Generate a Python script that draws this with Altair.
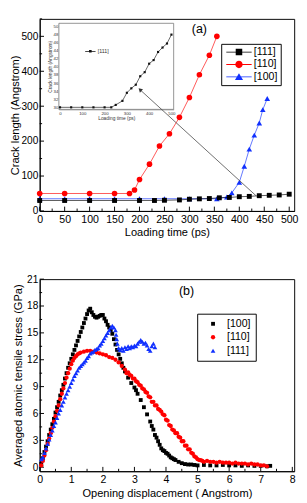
import altair as alt
import pandas as pd

FONT = "Liberation Sans"

# ---------------- panel (a): crack length vs loading time ----------------
t_111 = [0, 50, 100, 150, 200, 230, 250, 280, 300, 320, 340, 360, 380, 400, 420, 440, 460, 480, 500]
c_111 = [30, 30, 30, 30, 30, 30, 30.6, 31.6, 33.6, 34.7, 35.6, 37.7, 38.7, 40.8, 41.7, 43.7, 44.8, 45.8, 48]
t_110 = [0, 50, 100, 150, 180, 190, 200, 220, 240, 260, 280, 300, 320, 340, 355]
c_110 = [50, 50, 50, 50, 50, 60, 90, 134, 186, 221, 268, 325, 390, 446, 500]
t_100 = [0, 50, 100, 150, 200, 250, 300, 355, 375, 385, 400, 410, 420, 430, 440, 447, 456]
c_100 = [35, 35, 35, 35, 35, 35, 35, 35, 40, 52, 82, 128, 177, 217, 252, 290, 322]
series_a = ["[111]", "[110]", "[100]"]
colors_a = ["#000000", "#ff0000", "#1030ff"]

# ---------------- panel (b): stress vs opening displacement ----------------
d_100 = [0.05, 0.1, 0.15, 0.2, 0.25, 0.3, 0.35, 0.4, 0.45, 0.5, 0.55, 0.6, 0.65, 0.7, 0.75, 0.8, 0.85, 0.9,
         0.95, 1.0, 1.05, 1.1, 1.15, 1.2, 1.25, 1.3, 1.35, 1.4, 1.45, 1.5, 1.55, 1.6, 1.65, 1.7, 1.75, 1.8,
         1.85, 1.9, 1.95, 2.0, 2.05, 2.1, 2.15, 2.2, 2.25, 2.3, 2.35, 2.4, 2.45, 2.5, 2.55, 2.6, 2.65, 2.7,
         2.8, 2.9, 3.0, 3.05, 3.1, 3.2, 3.3, 3.4, 3.5, 3.55, 3.6, 3.65, 3.7, 3.75, 3.8, 3.85, 3.9, 3.95,
         4.0, 4.05, 4.1, 4.15, 4.2, 4.25, 4.3, 4.4, 4.5, 4.6, 4.7, 4.8, 4.9, 5.0, 5.2, 5.4, 5.6, 5.8, 6.0,
         6.2, 6.4, 6.6, 6.8, 7.0, 7.2, 7.3]
s_100 = [0.4, 1.0, 1.7, 2.3, 2.9, 3.6, 4.2, 4.8, 5.4, 6.1, 6.7, 7.3, 8.0, 8.6, 9.2, 9.9, 10.5, 11.1,
         11.6, 12.1, 12.6, 13.1, 13.6, 14.1, 14.6, 15.1, 15.6, 16.1, 16.6, 17.1, 17.5, 17.7, 17.3, 17.0, 16.8, 16.7,
         16.8, 16.9, 17.0, 17.0, 16.6, 16.3, 15.9, 15.6, 15.3, 14.9, 14.3, 13.7, 13.1, 12.6, 12.1, 11.6, 11.1, 10.7,
         10.0, 9.4, 8.9, 8.6, 8.2, 7.5, 6.7, 5.9, 5.1, 4.6, 4.2, 3.6, 3.3, 2.9, 2.5, 2.1, 1.9, 1.8,
         1.6, 1.5, 1.3, 1.1, 1.0, 0.9, 0.8, 0.6, 0.45, 0.35, 0.3, 0.3, 0.25, 0.2, 0.25, 0.2, 0.2, 0.25, 0.2,
         0.2, 0.15, 0.2, 0.15, 0.15, 0.1, 0.15]
d_110 = [0.05, 0.1, 0.15, 0.2, 0.25, 0.3, 0.35, 0.4, 0.45, 0.5, 0.55, 0.6, 0.65, 0.7, 0.75, 0.8, 0.85, 0.9,
         0.95, 1.0, 1.05, 1.1, 1.15, 1.2, 1.25, 1.3, 1.4, 1.5, 1.6, 1.7, 1.8, 1.9, 2.0, 2.1, 2.2, 2.3, 2.4,
         2.5, 2.6, 2.7, 2.75, 2.8, 2.85, 2.9, 2.95, 3.0, 3.05, 3.1, 3.15, 3.2, 3.25, 3.3, 3.35, 3.4, 3.45,
         3.5, 3.55, 3.6, 3.65, 3.7, 3.75, 3.8, 3.85, 3.9, 3.95, 4.0, 4.05, 4.1, 4.15, 4.2, 4.25, 4.3, 4.35,
         4.4, 4.45, 4.5, 4.55, 4.6, 4.65, 4.7, 4.75, 4.8, 4.85, 4.9, 4.95, 5.0, 5.05, 5.1, 5.15, 5.2, 5.3,
         5.4, 5.5, 5.6, 5.7, 5.8, 5.9, 6.0, 6.1, 6.2, 6.3, 6.4, 6.5, 6.6, 6.7, 6.8, 6.9, 7.0, 7.1, 7.2]
s_110 = [0.2, 0.7, 1.3, 1.9, 2.6, 3.2, 3.8, 4.4, 5.1, 5.7, 6.3, 6.9, 7.6, 8.2, 8.8, 9.4, 10.0, 10.5,
         11.0, 11.5, 11.9, 12.2, 12.4, 12.6, 12.7, 12.8, 12.9, 13.0, 13.0, 12.9, 12.8, 12.7, 12.6, 12.5, 12.3, 12.2, 12.0,
         11.7, 11.3, 10.9, 10.5, 10.6, 10.3, 10.2, 9.9, 9.9, 9.6, 9.5, 9.2, 9.1, 8.8, 8.7, 8.4, 8.3, 7.9,
         7.8, 7.3, 7.3, 6.9, 6.9, 6.5, 6.4, 6.2, 5.9, 5.8, 5.3, 5.2, 4.7, 4.6, 4.2, 4.1, 3.8, 3.8,
         3.4, 3.3, 2.9, 2.9, 2.4, 2.4, 2.0, 2.0, 1.6, 1.5, 1.2, 1.1, 0.9, 0.8, 0.8, 0.7, 0.6, 0.7,
         0.6, 0.6, 0.5, 0.6, 0.5, 0.5, 0.5, 0.4, 0.5, 0.4, 0.4, 0.4, 0.3, 0.4, 0.3, 0.3, 0.2, 0.2, 0.1]
d_111 = [0.05, 0.1, 0.15, 0.2, 0.25, 0.3, 0.35, 0.4, 0.45, 0.5, 0.55, 0.6, 0.65, 0.7, 0.75, 0.8, 0.85, 0.9,
         0.95, 1.0, 1.05, 1.1, 1.15, 1.2, 1.25, 1.3, 1.35, 1.4, 1.45, 1.5, 1.55, 1.6, 1.65, 1.7, 1.75, 1.8,
         1.85, 1.9, 1.95, 2.0, 2.05, 2.1, 2.15, 2.2, 2.25, 2.3, 2.35, 2.4, 2.42, 2.44, 2.46, 2.5, 2.55, 2.6,
         2.65, 2.7, 2.75, 2.8, 2.85, 2.9, 2.95, 3.0, 3.05, 3.1, 3.15, 3.2, 3.25, 3.3, 3.35, 3.4, 3.45, 3.5,
         3.55, 3.6, 3.65]
s_111 = [0.9, 1.1, 1.6, 2.1, 2.6, 3.1, 3.6, 4.1, 4.6, 5.0, 5.5, 6.0, 6.4, 6.9, 7.3, 7.8, 8.2, 8.6,
         9.0, 9.4, 9.8, 10.2, 10.5, 10.8, 11.1, 11.3, 11.5, 11.7, 11.9, 12.2, 12.4, 12.7, 12.8, 12.9, 13.1, 13.2,
         13.3, 13.6, 13.8, 14.1, 14.4, 14.7, 15.0, 15.3, 15.6, 15.8, 15.6, 15.3, 14.8, 14.3, 13.8, 13.3, 13.1, 13.3,
         13.0, 13.4, 13.2, 13.5, 13.3, 13.5, 13.4, 13.6, 13.5, 13.8, 14.0, 14.2, 14.0, 13.8, 13.9, 13.6, 13.2, 13.0,
         13.5, 13.8, 13.4]
series_b = ["[100]", "[110]", "[111]"]
colors_b = ["#000000", "#ff0000", "#1030ff"]
shapes_b = ["square", "circle", "triangle-up"]
sizes_b = [16, 24, 26]

# ---------------- layout constants ----------------
W = 265
HA = 200
HB = 200

xa = alt.Scale(domain=[0, 510], nice=False, zero=False)
ya = alt.Scale(domain=[0, 550], nice=False, zero=False)
AX_A = alt.Axis(values=list(range(0, 501, 50)), title="Loading time (ps)", labelPadding=3, titlePadding=3)
AY_A = alt.Axis(values=list(range(0, 501, 100)), title="Crack length (Angstrom)", labelPadding=2,
                titlePadding=1, labelFontSize=10.5)

xb = alt.Scale(domain=[0, 8.06], nice=False, zero=False)
yb = alt.Scale(domain=[-0.45, 21], nice=False, zero=False)
AX_B = alt.Axis(values=list(range(0, 9)), title="Opening displacement ( Angstrom)", labelPadding=3, titlePadding=3)
AY_B = alt.Axis(values=list(range(0, 22, 3)), title="Averaged atomic tensile stress (GPa)", labelPadding=2,
                titlePadding=3, labelFontSize=10.5)


def tick_layers(xvals, xmajor, yvals, ymajor, xs, ys, axx, axy, h):
    dfx = pd.DataFrame({"v": xvals, "major": [v in xmajor for v in xvals]})
    dfy = pd.DataFrame({"v": yvals, "major": [v in ymajor for v in yvals]})
    out = []
    for maj, ln in [(True, 4.5), (False, 2.5)]:
        out.append(alt.Chart(dfx).transform_filter(f"datum.major == {str(maj).lower()}").mark_rule(
            color="black", strokeWidth=1).encode(
            x=alt.X("v:Q", scale=xs, axis=axx), y=alt.value(h), y2=alt.value(h - ln)))
        out.append(alt.Chart(dfy).transform_filter(f"datum.major == {str(maj).lower()}").mark_rule(
            color="black", strokeWidth=1).encode(
            y=alt.Y("v:Q", scale=ys, axis=axy), x=alt.value(0), x2=alt.value(ln)))
    return out


# ---------------- panel (a) main group ----------------
df_a = pd.concat([
    pd.DataFrame({"x": t_111, "y": c_111, "series": "[111]"}),
    pd.DataFrame({"x": t_110, "y": c_110, "series": "[110]"}),
    pd.DataFrame({"x": t_100, "y": c_100, "series": "[100]"}),
], ignore_index=True)

layers_a = tick_layers(list(range(0, 501, 25)), list(range(0, 501, 50)),
                       list(range(0, 551, 50)), list(range(0, 501, 100)), xa, ya, AX_A, AY_A, HA)

shape_a = {"[111]": ("square", 26), "[110]": ("circle", 34), "[100]": ("triangle-up", 34)}
for name in ["[100]", "[110]", "[111]"]:
    col = colors_a[series_a.index(name)]
    base = alt.Chart(df_a).transform_filter(alt.datum.series == name)
    layers_a.append(base.mark_line(color=col, strokeWidth=0.9, opacity=0.75).encode(
        x=alt.X("x:Q", scale=xa, axis=AX_A), y=alt.Y("y:Q", scale=ya, axis=AY_A)))
    shp, sz = shape_a[name]
    layers_a.append(base.mark_point(filled=True, shape=shp, size=sz, color=col, opacity=1).encode(
        x=alt.X("x:Q", scale=xa, axis=AX_A), y=alt.Y("y:Q", scale=ya, axis=AY_A)))

LINE = "M-3.3,-0.1H3.3V0.1H-3.3Z "
leg_paths = [LINE + "M-0.85,-0.85H0.85V0.85H-0.85Z",
             LINE + "M0.95,0A0.95,0.95 0 1,1 -0.95,0A0.95,0.95 0 1,1 0.95,0Z",
             LINE + "M0,-1.0L1.05,0.8H-1.05Z"]
LEG_A = alt.Legend(orient="none", legendX=189, legendY=26, strokeColor="black", padding=3, title=None,
                   symbolSize=64, labelFontSize=11, labelFont=FONT, rowPadding=1,
                   symbolOffset=10, labelOffset=10, symbolStrokeWidth=0)
legend_df = pd.DataFrame({"series": series_a})
layers_a.append(alt.Chart(legend_df).mark_point(filled=True, clip=True, opacity=1).encode(
    x=alt.value(-200), y=alt.value(-200),
    color=alt.Color("series:N", scale=alt.Scale(domain=series_a, range=colors_a), legend=LEG_A),
    shape=alt.Shape("series:N", scale=alt.Scale(domain=series_a, range=leg_paths), legend=LEG_A)))
layers_a.append(alt.Chart(alt.Data(values=[{}])).mark_text(text="(a)", fontSize=13, font=FONT).encode(
    x=alt.X(datum=320, scale=xa, axis=AX_A), y=alt.Y(datum=520, scale=ya, axis=AY_A)))
main_a = alt.layer(*layers_a)

# ---------------- inset ----------------
IX0, IX1 = 20, 139.5
IY0, IY1 = 4.6, 94.2
xi = alt.Scale(domain=[-5, 510], range=[IX0, IX1], nice=False, zero=False)
yi = alt.Scale(domain=[29.5, 50.8], range=[IY1, IY0], nice=False, zero=False)
AX_I = alt.Axis(orient="bottom", offset=-(HA - IY1), values=list(range(0, 501, 100)), title="Loading time (ps)",
                labelFontSize=4.5, titleFontSize=5, labelPadding=1, titlePadding=1, domainColor="#777",
                domainWidth=0.8, labelColor="#333", titleColor="#333")
AY_I = alt.Axis(orient="left", offset=-IX0, values=list(range(30, 51, 2)), title="Crack length (Angstrom)",
                labelFontSize=4.5, titleFontSize=5, labelPadding=1, titlePadding=1, domainColor="#777",
                domainWidth=0.8, labelColor="#333", titleColor="#333")
inset_df = pd.DataFrame({"x": t_111, "y": c_111, "lab": "[111]"})
INSET_LEG_PATH = "M-3.6,-0.25H3.6V0.25H-3.6Z M-0.9,-0.9H0.9V0.9H-0.9Z"
LEG_I = alt.Legend(orient="none", legendX=46, legendY=31, title=None, symbolType=INSET_LEG_PATH,
                   symbolSize=9, labelFontSize=5.5, labelFont=FONT, symbolOffset=4, labelOffset=5,
                   symbolStrokeWidth=0, labelColor="#333")
inset = alt.layer(
    alt.Chart(alt.Data(values=[{}])).mark_rect(fill="white", stroke="#777", strokeWidth=0.8).encode(
        x=alt.value(IX0), x2=alt.value(IX1), y=alt.value(IY0), y2=alt.value(IY1)),
    alt.Chart(inset_df).mark_line(color="#222", strokeWidth=0.7).encode(
        x=alt.X("x:Q", scale=xi, axis=AX_I), y=alt.Y("y:Q", scale=yi, axis=AY_I)),
    alt.Chart(inset_df).mark_point(filled=True, shape="square", size=5, opacity=1).encode(
        x=alt.X("x:Q", scale=xi, axis=AX_I), y=alt.Y("y:Q", scale=yi, axis=AY_I),
        color=alt.Color("lab:N", scale=alt.Scale(domain=["[111]"], range=["#111"]), legend=LEG_I)),
)

# ---------------- arrow from inset to curve ----------------
arrow_from = [434, 43]
arrow_to = [202, 346]
xr = alt.Scale(domain=[0, 510], nice=False, zero=False)
yr = alt.Scale(domain=[0, 550], nice=False, zero=False)
arrow = alt.layer(
    alt.Chart(alt.Data(values=[{}])).mark_rule(color="#444", strokeWidth=0.8).encode(
        x=alt.X(datum=arrow_from[0], scale=xr, axis=None), y=alt.Y(datum=arrow_from[1], scale=yr, axis=None),
        x2=alt.X2(datum=arrow_to[0]), y2=alt.Y2(datum=arrow_to[1])),
    alt.Chart(alt.Data(values=[{}])).mark_point(shape="triangle", filled=True, size=22, angle=313,
                                                 color="#333", opacity=1).encode(
        x=alt.X(datum=arrow_to[0], scale=xr, axis=None), y=alt.Y(datum=arrow_to[1], scale=yr, axis=None)),
)

panel_a = alt.layer(main_a, inset, arrow).resolve_scale(
    x="independent", y="independent", color="independent", shape="independent"
).properties(width=W, height=HA)

# ---------------- panel (b) ----------------
df_b = pd.concat([
    pd.DataFrame({"x": d_100, "y": s_100, "series": "[100]"}),
    pd.DataFrame({"x": d_110, "y": s_110, "series": "[110]"}),
    pd.DataFrame({"x": d_111, "y": s_111, "series": "[111]"}),
], ignore_index=True)
layers_b = tick_layers([v / 2 for v in range(0, 17)], list(range(0, 9)),
                       [v * 1.5 for v in range(0, 15)], list(range(0, 22, 3)), xb, yb, AX_B, AY_B, HB)
LEG_B = alt.Legend(orient="none", legendX=164, legendY=36, strokeColor="black", padding=5, title=None,
                   symbolSize=30, labelFontSize=11, labelFont=FONT, rowPadding=2, symbolOffset=6,
                   labelOffset=9, symbolStrokeWidth=0)
layers_b.append(alt.Chart(df_b).mark_point(filled=True, opacity=1).encode(
    x=alt.X("x:Q", scale=xb, axis=AX_B), y=alt.Y("y:Q", scale=yb, axis=AY_B),
    color=alt.Color("series:N", scale=alt.Scale(domain=series_b, range=colors_b), legend=LEG_B),
    shape=alt.Shape("series:N", scale=alt.Scale(domain=series_b, range=shapes_b), legend=LEG_B),
    size=alt.Size("series:N", scale=alt.Scale(domain=series_b, range=sizes_b), legend=None),
    order=alt.Order("series:N")))
layers_b.append(alt.Chart(alt.Data(values=[{}])).mark_text(text="(b)", fontSize=13, font=FONT).encode(
    x=alt.X(datum=4.65, scale=xb, axis=AX_B), y=alt.Y(datum=19.7, scale=yb, axis=AY_B)))
panel_b = alt.layer(*layers_b).properties(width=W, height=HB)

chart = alt.vconcat(panel_a, panel_b, spacing=36).resolve_scale(
    color="independent", shape="independent", size="independent"
).resolve_legend(color="independent", shape="independent", size="independent").properties(padding=0).configure_view(
    stroke="black", strokeWidth=1
).configure_axis(
    labelFont=FONT, titleFont=FONT, labelFontSize=11, titleFontSize=11.5, titleFontWeight="normal",
    labelColor="black", titleColor="black", domainColor="black", domainWidth=1, grid=False, ticks=False,
    labelFlush=False
).configure_legend(labelColor="black")

chart.save("out.html", embed_options={"renderer": "svg", "actions": False})
